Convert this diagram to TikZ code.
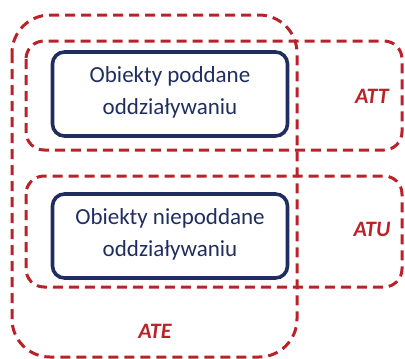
\documentclass[tikz,border=0pt]{standalone}
\usepackage{fontspec}
\setmainfont{Carlito}
\definecolor{dred}{RGB}{185,34,40}
\definecolor{navy}{RGB}{32,45,95}
\begin{document}
\begin{tikzpicture}[x=1pt,y=-1pt,
  grp/.style={draw=dred,line width=3pt,dash pattern=on 10pt off 6pt},
  obj/.style={draw=navy,line width=3.6pt,rounded corners=12pt},
  objtext/.style={text=navy,font=\fontsize{23}{32}\selectfont,align=center},
  lab/.style={text=dred,font=\fontsize{22}{26}\selectfont\bfseries\itshape}]
\useasboundingbox (0,0) rectangle (405,359);
\draw[grp,rounded corners=38pt] (12,15) rectangle (297,357);
\draw[grp,rounded corners=18pt] (26,41) rectangle (402,150);
\draw[grp,rounded corners=18pt] (26,176) rectangle (402,287);
\node[obj,minimum width=235pt,minimum height=84pt] (b1) at (170,94) {};
\node[objtext] (t1) at (170,92) {Obiekty poddane\\oddziaływaniu};
\node[obj,minimum width=235pt,minimum height=84pt] (b2) at (170,236) {};
\node[objtext] (t2) at (170,234) {Obiekty niepoddane\\oddziaływaniu};
\node[lab] (att) at (372,96) {ATT};
\node[lab] (atu) at (372,229) {ATU};
\node[lab] (ate) at (155,331) {ATE};
\end{tikzpicture}
\end{document}
